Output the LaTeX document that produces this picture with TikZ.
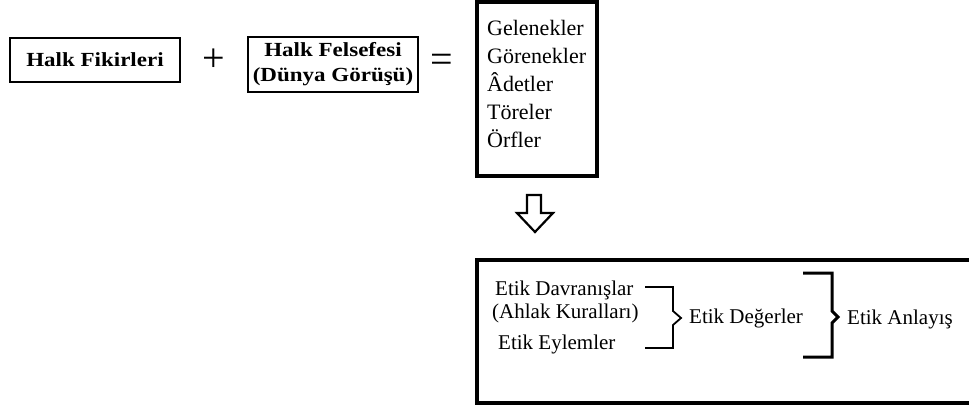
\documentclass[tikz,border=0pt]{standalone}
\usepackage{fontspec}
\setmainfont{Liberation Serif}
\newfontfamily\widefont[FakeStretch=1.15]{Liberation Serif}
\usetikzlibrary{calc}

\tikzset{
	kutu/.style={draw, line width=2.5pt, inner sep=0pt, align=center, font=\widefont\bfseries\fontsize{20}{25}\selectfont},
	kalin/.style={line width=4pt},
	yazi/.style={anchor=base west, inner sep=0pt, font=\fontsize{21}{25}\selectfont},
	liste/.style={anchor=base west, inner sep=0pt, font=\fontsize{22}{28}\selectfont},
	isaret/.style={anchor=base, inner sep=0pt, font=\fontsize{40}{40}\selectfont},
	parantez/.style={line width=1.8pt, line join=miter},
}

\begin{document}
\begin{tikzpicture}[x=1pt, y=-1pt]
	%%%%% START %%%%%
	\useasboundingbox (0, 0) rectangle (969, 407);
	
	\node[kutu, minimum width=170pt, minimum height=44pt] (fikir) at (95, 60) {Halk Fikirleri};
	\node[isaret] (arti) at (214, 71) {+};
	\node[kutu, minimum width=170pt, minimum height=55pt] (felsefe) at (333, 64.5) {Halk Felsefesi\\(Dünya Görüşü)};
	\node[isaret] (esit) at (442, 72) {=};
	
	\draw[kalin] (477, 1.5) rectangle (597, 176);
	\foreach \w [count=\i from 0] in {Gelenekler, Görenekler, Âdetler, Töreler, Örfler}
		\node[liste] (gel\i) at (487, {35+28*\i}) {\w};
	
	\draw[line width=2.2pt, line join=miter] (527, 195) -- (541, 195) -- (541, 213) -- (553, 213) -- (535, 232) -- (517, 213) -- (527, 213) -- cycle;
	
	\draw[kalin] (477, 260) rectangle (990, 403);
	\node[yazi] (davranis) at (495, 295) {Etik Davranışlar};
	\node[yazi] (ahlak) at (492, 318) {(Ahlak Kuralları)};
	\node[yazi] (eylem) at (498, 349) {Etik Eylemler};
	\node[yazi] (deger) at (689, 323) {Etik Değerler};
	\node[yazi] (anlayis) at (847, 324) {Etik Anlayış};
	
	\coordinate (b1ust) at (645, 287);
	\coordinate (b1alt) at (645, 348);
	\draw[parantez] (b1ust) -- ++(28, 0) -- ++(0, 24) -- ++(8, 7) -- ++(-8, 7) -- ++(0, 23) -- (b1alt);
	
	\coordinate (b2ust) at (803, 273);
	\coordinate (b2alt) at (803, 357);
	\draw[parantez, line width=3pt] (b2ust) -- ++(29, 0) -- ++(0, 38) -- ++(6, 6) -- ++(-6, 6) -- ++(0, 34) -- (b2alt);
	%%%%% END %%%%%
\end{tikzpicture}
\end{document}
